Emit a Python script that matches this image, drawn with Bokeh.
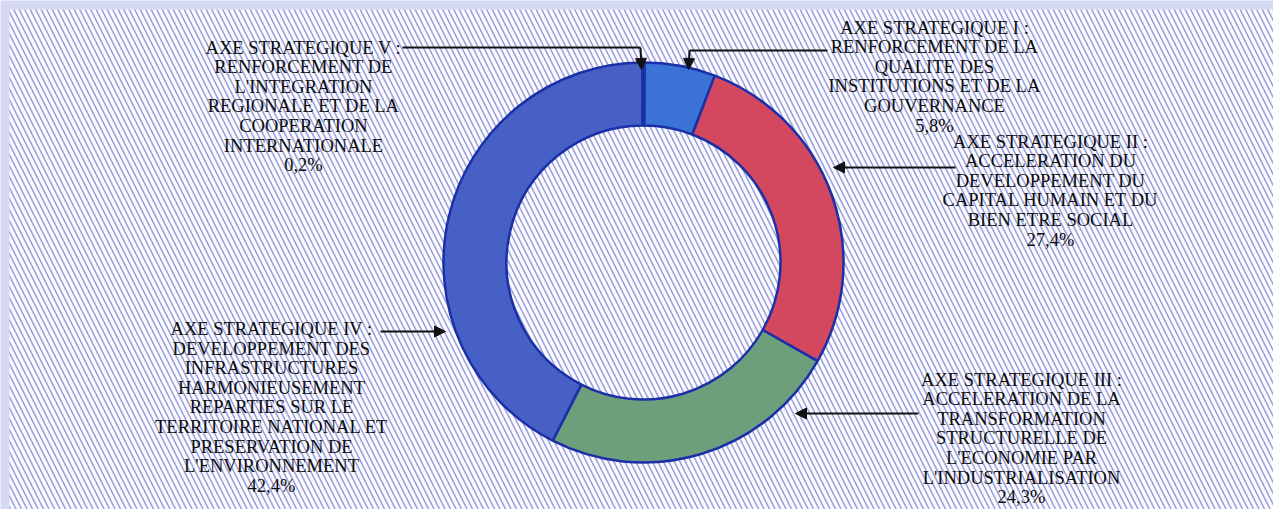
import numpy as np
from bokeh.plotting import figure
from bokeh.models import ColumnDataSource, Range1d, BoxAnnotation, Arrow, NormalHead
from bokeh.core.properties import value
from bokeh.embed import file_html
from bokeh.resources import INLINE

# ---- data ----
axes_names = ["AXE STRATEGIQUE I", "AXE STRATEGIQUE II", "AXE STRATEGIQUE III",
              "AXE STRATEGIQUE IV", "AXE STRATEGIQUE V"]
shares = [5.8, 27.4, 24.3, 42.4, 0.2]
pct_labels = ["5,8%", "27,4%", "24,3%", "42,4%", "0,2%"]
label_texts = [
    "AXE STRATEGIQUE I :\nRENFORCEMENT DE LA\nQUALITE DES\nINSTITUTIONS ET DE LA\nGOUVERNANCE",
    "AXE STRATEGIQUE II :\nACCELERATION DU\nDEVELOPPEMENT DU\nCAPITAL HUMAIN ET DU\nBIEN ETRE SOCIAL",
    "AXE STRATEGIQUE III :\nACCELERATION DE LA\nTRANSFORMATION\nSTRUCTURELLE DE\nL'ECONOMIE PAR\nL'INDUSTRIALISATION",
    "AXE STRATEGIQUE IV :\nDEVELOPPEMENT DES\nINFRASTRUCTURES\nHARMONIEUSEMENT\nREPARTIES SUR LE\nTERRITOIRE NATIONAL ET\nPRESERVATION DE\nL'ENVIRONNEMENT",
    "AXE STRATEGIQUE V :\nRENFORCEMENT DE\nL'INTEGRATION\nREGIONALE ET DE LA\nCOOPERATION\nINTERNATIONALE",
]
colors = ["#3a72d6", "#d3475f", "#6e9f7c", "#4660c6", "#1c2c96"]

# ---- layout (pixels, y measured from top) ----
W, H = 1273, 509
cx, cy = 643, 262
r_in, r_out = 137, 200
label_pos = [(934, 76), (1050, 190), (1021, 438), (271, 407), (303, 106)]

def fy(ypx):
    return H - ypx

frac = np.array(shares) / 100.0
cum_end = np.cumsum(frac)
cum_start = cum_end - frac
start = np.pi / 2 - 2 * np.pi * cum_start
end = np.pi / 2 - 2 * np.pi * cum_end

src = ColumnDataSource(dict(name=axes_names, share=shares, color=colors,
                            start=start, end=end))

p = figure(width=W, height=H, x_range=Range1d(0, W), y_range=Range1d(0, H),
           output_backend="svg", toolbar_location=None, min_border=0)
p.axis.visible = False
p.grid.visible = False
p.outline_line_color = None
p.background_fill_color = "#d5d9f4"
p.border_fill_color = "#d5d9f4"

bg = BoxAnnotation(left=9, right=W, top=fy(9), bottom=0,
                   fill_color="#fbfbff", fill_alpha=1.0, line_color=None,
                   hatch_pattern="\\", hatch_color="#9ba1da", hatch_weight=1.6,
                   hatch_scale=11, level="underlay")
p.add_layout(bg)

p.annular_wedge(x=cx, y=fy(cy), inner_radius=r_in, outer_radius=r_out,
                start_angle="start", end_angle="end", direction="clock",
                fill_color="color", line_color="#1b2fa8", line_width=2.5,
                source=src)

full_labels = [t + "\n" + pc for t, pc in zip(label_texts, pct_labels)]
lsrc = ColumnDataSource(dict(x=[lp[0] for lp in label_pos],
                             y=[fy(lp[1]) for lp in label_pos],
                             text=full_labels))
p.text(x="x", y="y", text="text", source=lsrc, text_align="center",
       text_baseline="middle", text_font=value("Liberation Serif"),
       text_font_size="18.5px", text_line_height=0.98, text_color="#0d0d0d")

# ---- arrows ----
def arrow(x0, y0, x1, y1):
    p.add_layout(Arrow(end=NormalHead(size=11, fill_color="#111111", line_color="#111111"),
                       x_start=x0, y_start=fy(y0), x_end=x1, y_end=fy(y1),
                       line_color="#111111", line_width=2))

p.line(x=[402, 640], y=[fy(47), fy(47)], line_color="#111111", line_width=2)
arrow(640, 47, 641, 69)
p.line(x=[827, 689], y=[fy(50), fy(50)], line_color="#111111", line_width=2)
arrow(689, 50, 688, 69)
arrow(955, 167, 833, 167)
arrow(918, 413, 795, 413)
arrow(380, 331, 445, 331)

open("out.html", "w").write(file_html(p, INLINE))
